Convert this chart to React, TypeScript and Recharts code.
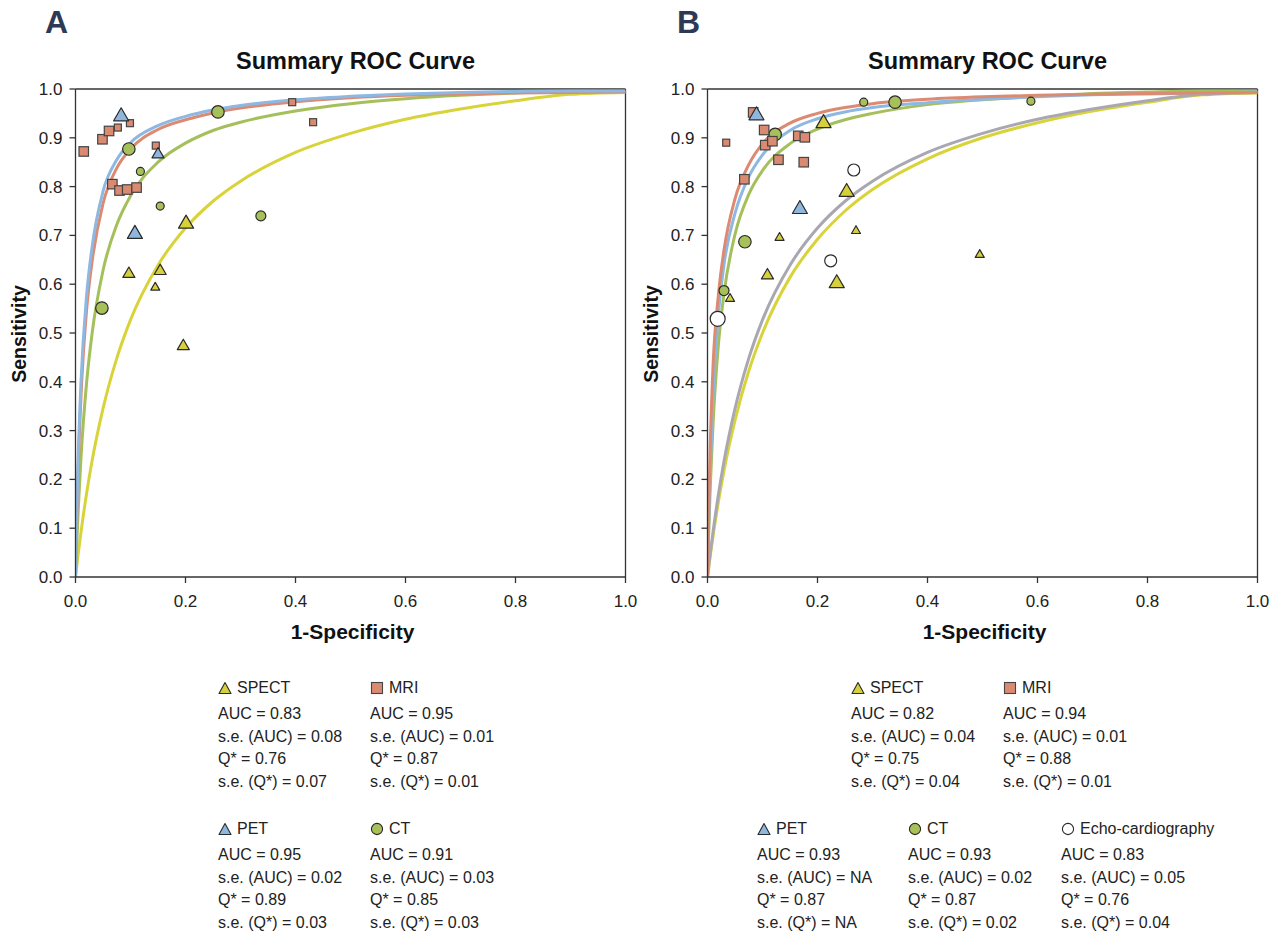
import React from 'react';
import { ComposedChart, Line, Scatter, XAxis, YAxis, ReferenceLine } from 'recharts';

const FONT = '"Liberation Sans", Arial, Helvetica, sans-serif';

// shared grid of 1-specificity values used for the SROC curves
const fprGrid = [0, 0.002, 0.005, 0.01, 0.02, 0.03, 0.05, 0.075, 0.1, 0.15, 0.2, 0.25, 0.3, 0.4, 0.5, 0.6, 0.7, 0.8, 0.9, 1.0];
const xTicks = [0, 0.2, 0.4, 0.6, 0.8, 1.0];
const yTicks = [0, 0.1, 0.2, 0.3, 0.4, 0.5, 0.6, 0.7, 0.8, 0.9, 1.0];

// panel A curves (sensitivity at each fprGrid value)
const curveSpectA = [0, 0.0197, 0.048, 0.092, 0.17, 0.237, 0.345, 0.448, 0.527, 0.639, 0.715, 0.77, 0.811, 0.87, 0.909, 0.938, 0.959, 0.976, 0.989, 0.993];
const curveMriA = [0, 0.1, 0.225, 0.37, 0.545, 0.645, 0.765, 0.838, 0.877, 0.917, 0.937, 0.951, 0.961, 0.974, 0.982, 0.987, 0.99, 0.992, 0.993, 0.994];
const curvePetA = [0, 0.116, 0.25, 0.4, 0.575, 0.675, 0.79, 0.855, 0.89, 0.925, 0.944, 0.957, 0.966, 0.978, 0.985, 0.99, 0.993, 0.995, 0.996, 0.996];
const curveCtA = [0, 0.0605, 0.139, 0.245, 0.396, 0.498, 0.628, 0.722, 0.781, 0.85, 0.889, 0.915, 0.932, 0.955, 0.97, 0.98, 0.987, 0.992, 0.995, 0.995];

// panel B curves
const curveSpectB = [0, 0.0177, 0.0433, 0.0833, 0.155, 0.218, 0.321, 0.422, 0.5, 0.614, 0.692, 0.75, 0.794, 0.857, 0.9, 0.931, 0.955, 0.973, 0.988, 0.992];
const curveEchoB = [0, 0.0197, 0.048, 0.092, 0.17, 0.237, 0.345, 0.448, 0.527, 0.639, 0.715, 0.77, 0.811, 0.87, 0.909, 0.938, 0.959, 0.976, 0.989, 0.993];
const curveMriB = [0, 0.12, 0.27, 0.43, 0.58, 0.67, 0.775, 0.845, 0.888, 0.93, 0.95, 0.962, 0.97, 0.979, 0.984, 0.987, 0.989, 0.991, 0.992, 0.993];
const curvePetB = [0, 0.1, 0.22, 0.37, 0.54, 0.64, 0.745, 0.82, 0.865, 0.915, 0.939, 0.953, 0.962, 0.972, 0.979, 0.984, 0.988, 0.99, 0.992, 0.994];
const curveCtB = [0, 0.0824, 0.184, 0.311, 0.478, 0.581, 0.702, 0.784, 0.833, 0.888, 0.918, 0.937, 0.95, 0.968, 0.978, 0.985, 0.991, 0.994, 0.996, 0.996];

// study points: x = 1-specificity, y = sensitivity, w = study weight class
const spectA = [
  { x: 0.201, y: 0.725, w: 3 }, { x: 0.097, y: 0.622, w: 2 }, { x: 0.154, y: 0.628, w: 2 },
  { x: 0.145, y: 0.594, w: 1 }, { x: 0.196, y: 0.474, w: 2 },
];
const petA = [{ x: 0.083, y: 0.945, w: 3 }, { x: 0.15, y: 0.867, w: 2 }, { x: 0.108, y: 0.704, w: 3 }];
const mriA = [
  { x: 0.015, y: 0.872, w: 2 }, { x: 0.049, y: 0.897, w: 2 }, { x: 0.061, y: 0.914, w: 2 },
  { x: 0.077, y: 0.921, w: 1 }, { x: 0.099, y: 0.93, w: 1 }, { x: 0.146, y: 0.884, w: 1 },
  { x: 0.067, y: 0.805, w: 2 }, { x: 0.08, y: 0.792, w: 2 }, { x: 0.094, y: 0.794, w: 2 },
  { x: 0.111, y: 0.798, w: 2 }, { x: 0.394, y: 0.973, w: 1 }, { x: 0.432, y: 0.932, w: 1 },
];
const ctA = [
  { x: 0.097, y: 0.877, w: 3 }, { x: 0.118, y: 0.831, w: 1 }, { x: 0.154, y: 0.76, w: 1 },
  { x: 0.259, y: 0.953, w: 3 }, { x: 0.337, y: 0.74, w: 2 }, { x: 0.048, y: 0.551, w: 3 },
];

const spectB = [
  { x: 0.211, y: 0.931, w: 3 }, { x: 0.253, y: 0.79, w: 3 }, { x: 0.131, y: 0.696, w: 1 },
  { x: 0.27, y: 0.71, w: 1 }, { x: 0.109, y: 0.619, w: 2 }, { x: 0.235, y: 0.603, w: 3 },
  { x: 0.041, y: 0.571, w: 1 }, { x: 0.495, y: 0.661, w: 1 },
];
const petB = [{ x: 0.089, y: 0.947, w: 3 }, { x: 0.168, y: 0.755, w: 3 }];
const mriB = [
  { x: 0.083, y: 0.952, w: 2 }, { x: 0.103, y: 0.916, w: 2 }, { x: 0.034, y: 0.89, w: 1 },
  { x: 0.105, y: 0.885, w: 2 }, { x: 0.118, y: 0.893, w: 2 }, { x: 0.165, y: 0.904, w: 2 },
  { x: 0.177, y: 0.901, w: 2 }, { x: 0.129, y: 0.855, w: 2 }, { x: 0.175, y: 0.85, w: 2 },
  { x: 0.067, y: 0.815, w: 2 },
];
const ctB = [
  { x: 0.123, y: 0.907, w: 3 }, { x: 0.284, y: 0.973, w: 1 }, { x: 0.341, y: 0.973, w: 3 },
  { x: 0.588, y: 0.975, w: 1 }, { x: 0.068, y: 0.687, w: 3 }, { x: 0.03, y: 0.587, w: 2 },
];
const echoB = [{ x: 0.266, y: 0.834, w: 2 }, { x: 0.224, y: 0.648, w: 2 }, { x: 0.0185, y: 0.529, w: 3 }];

// legend stats
const statsA = [
  { name: 'SPECT', marker: 'tri', fill: '#d6d03c', lines: ['AUC = 0.83', 's.e. (AUC) = 0.08', 'Q* = 0.76', 's.e. (Q*) = 0.07'] },
  { name: 'MRI', marker: 'sq', fill: '#d98a70', lines: ['AUC = 0.95', 's.e. (AUC) = 0.01', 'Q* = 0.87', 's.e. (Q*) = 0.01'] },
  { name: 'PET', marker: 'tri', fill: '#8fb6dd', lines: ['AUC = 0.95', 's.e. (AUC) = 0.02', 'Q* = 0.89', 's.e. (Q*) = 0.03'] },
  { name: 'CT', marker: 'circ', fill: '#a7c05a', lines: ['AUC = 0.91', 's.e. (AUC) = 0.03', 'Q* = 0.85', 's.e. (Q*) = 0.03'] },
];
const statsB = [
  { name: 'SPECT', marker: 'tri', fill: '#d6d03c', lines: ['AUC = 0.82', 's.e. (AUC) = 0.04', 'Q* = 0.75', 's.e. (Q*) = 0.04'] },
  { name: 'MRI', marker: 'sq', fill: '#d98a70', lines: ['AUC = 0.94', 's.e. (AUC) = 0.01', 'Q* = 0.88', 's.e. (Q*) = 0.01'] },
  { name: 'PET', marker: 'tri', fill: '#8fb6dd', lines: ['AUC = 0.93', 's.e. (AUC) = NA', 'Q* = 0.87', 's.e. (Q*) = NA'] },
  { name: 'CT', marker: 'circ', fill: '#a7c05a', lines: ['AUC = 0.93', 's.e. (AUC) = 0.02', 'Q* = 0.87', 's.e. (Q*) = 0.02'] },
  { name: 'Echo-cardiography', marker: 'circ', fill: '#ffffff', lines: ['AUC = 0.83', 's.e. (AUC) = 0.05', 'Q* = 0.76', 's.e. (Q*) = 0.04'] },
];

const COLORS = {
  spect: '#d9d33a',
  mri: '#dc8a72',
  pet: '#8cb8e2',
  ct: '#a5bf5b',
  echo: '#a9a8b2',
};

const tableA = fprGrid.map((x, i) => ({ x, spect: curveSpectA[i], mri: curveMriA[i], pet: curvePetA[i], ct: curveCtA[i] }));
const tableB = fprGrid.map((x, i) => ({
  x, spect: curveSpectB[i], echo: curveEchoB[i], mri: curveMriB[i], pet: curvePetB[i], ct: curveCtB[i],
}));

const EDGE = '#2a2a2a';

const triangle = (fill: string) => (props: any) => {
  const { cx, cy, payload } = props;
  const s = ({ 1: 9, 2: 12, 3: 15 } as any)[payload.w];
  const h = s * 0.866;
  return (
    <polygon
      points={`${cx},${cy - h * 0.62} ${cx - s / 2},${cy + h * 0.38} ${cx + s / 2},${cy + h * 0.38}`}
      fill={fill}
      stroke={EDGE}
      strokeWidth={1.2}
      strokeLinejoin="round"
    />
  );
};

const square = (fill: string) => (props: any) => {
  const { cx, cy, payload } = props;
  const s = ({ 1: 7, 2: 9.5, 3: 12 } as any)[payload.w];
  return <rect x={cx - s / 2} y={cy - s / 2} width={s} height={s} fill={fill} stroke="#444" strokeWidth={1.2} />;
};

const circle = (fill: string, sizes: any) => (props: any) => {
  const { cx, cy, payload } = props;
  return <circle cx={cx} cy={cy} r={sizes[payload.w] / 2} fill={fill} stroke={EDGE} strokeWidth={1.2} />;
};

const CIRCLE_SIZES = { 1: 8, 2: 10, 3: 12.5 };
const ECHO_SIZES = { 1: 9, 2: 12, 3: 15 };

function Marker({ kind, fill }: { kind: string; fill: string }) {
  return (
    <svg width={14} height={14} style={{ position: 'absolute', left: 0, top: 4 }}>
      {kind === 'tri' && <polygon points="7,1.5 1,12.5 13,12.5" fill={fill} stroke={EDGE} strokeWidth={1.1} strokeLinejoin="round" />}
      {kind === 'sq' && <rect x={1.5} y={1.5} width={11} height={11} fill={fill} stroke="#444" strokeWidth={1.1} />}
      {kind === 'circ' && <circle cx={7} cy={7} r={5.6} fill={fill} stroke={EDGE} strokeWidth={1.1} />}
    </svg>
  );
}

function StatBlock({ stat, left, top }: { stat: any; left: number; top: number }) {
  return (
    <div style={{ position: 'absolute', left, top, fontFamily: FONT, fontSize: 16, color: '#222', lineHeight: '22.6px', whiteSpace: 'nowrap' }}>
      <div style={{ position: 'relative', paddingLeft: 19, marginBottom: 3.5 }}>
        <Marker kind={stat.marker} fill={stat.fill} />
        {stat.name}
      </div>
      {stat.lines.map((l: string) => (
        <div key={l}>{l}</div>
      ))}
    </div>
  );
}

function RocPanel({ left, letter, table, keys, points }: { left: number; letter: string; table: any[]; keys: string[]; points: any[] }) {
  const axisStyle = { stroke: '#333', strokeWidth: 1.3 };
  return (
    <div style={{ position: 'absolute', left, top: 0, width: 660, height: 660 }}>
      <div style={{ position: 'absolute', left: 45, top: 4, fontFamily: FONT, fontWeight: 'bold', fontSize: 32, color: '#2e3a55' }}>{letter}</div>
      <div style={{ position: 'absolute', left: 355.5, top: 61, transform: 'translate(-50%, -50%)', fontFamily: FONT, fontWeight: 'bold', fontSize: 23.5, color: '#111', whiteSpace: 'nowrap' }}>
        Summary ROC Curve
      </div>
      <div style={{ position: 'absolute', left: 352.5, top: 632, transform: 'translate(-50%, -50%)', fontFamily: FONT, fontWeight: 'bold', fontSize: 21, color: '#111', whiteSpace: 'nowrap' }}>
        1-Specificity
      </div>
      <div style={{ position: 'absolute', left: 19, top: 334, transform: 'translate(-50%, -50%) rotate(-90deg)', fontFamily: FONT, fontWeight: 'bold', fontSize: 19.5, color: '#111', whiteSpace: 'nowrap' }}>
        Sensitivity
      </div>
      <ComposedChart width={660} height={660} data={table} margin={{ top: 89, right: 34.5, left: 0, bottom: 43 }} style={{ position: 'absolute', left: 0, top: 0 }}>
        <XAxis
          type="number"
          dataKey="x"
          domain={[0, 1]}
          ticks={xTicks}
          interval={0}
          tickFormatter={(v: number) => v.toFixed(1)}
          tickSize={6}
          tickMargin={12}
          height={40}
          axisLine={axisStyle}
          tickLine={axisStyle}
          tick={{ fontSize: 17, fill: '#222', fontFamily: FONT }}
          allowDataOverflow
        />
        <YAxis
          type="number"
          domain={[0, 1]}
          ticks={yTicks}
          interval={0}
          tickFormatter={(v: number) => v.toFixed(1)}
          tickSize={6}
          tickMargin={7}
          width={75.5}
          axisLine={axisStyle}
          tickLine={axisStyle}
          tick={{ fontSize: 17, fill: '#222', fontFamily: FONT }}
          allowDataOverflow
        />
        <ReferenceLine y={1} stroke="#333" strokeWidth={1.3} />
        <ReferenceLine x={1} stroke="#333" strokeWidth={1.3} />
        {keys.map((k) => (
          <Line key={k} type="monotone" dataKey={k} stroke={(COLORS as any)[k]} strokeWidth={3} dot={false} activeDot={false} isAnimationActive={false} />
        ))}
        {points.map((p, i) => (
          <Scatter key={i} data={p.data} dataKey="y" shape={p.shape} isAnimationActive={false} />
        ))}
      </ComposedChart>
    </div>
  );
}

export default function App() {
  const pointsA = [
    { data: spectA, shape: triangle('#d6d03c') },
    { data: ctA, shape: circle('#a7c05a', CIRCLE_SIZES) },
    { data: mriA, shape: square('#d98a70') },
    { data: petA, shape: triangle('#8fb6dd') },
  ];
  const pointsB = [
    { data: spectB, shape: triangle('#d6d03c') },
    { data: echoB, shape: circle('#ffffff', ECHO_SIZES) },
    { data: ctB, shape: circle('#a7c05a', CIRCLE_SIZES) },
    { data: mriB, shape: square('#d98a70') },
    { data: petB, shape: triangle('#8fb6dd') },
  ];

  return (
    <div style={{ position: 'absolute', left: 0, top: 0, width: 1278, height: 934, background: '#fff', overflow: 'hidden' }}>
      <RocPanel left={0} letter="A" table={tableA} keys={['spect', 'ct', 'mri', 'pet']} points={pointsA} />
      <RocPanel left={632} letter="B" table={tableB} keys={['spect', 'echo', 'ct', 'pet', 'mri']} points={pointsB} />

      <StatBlock stat={statsA[0]} left={218} top={677} />
      <StatBlock stat={statsA[1]} left={370} top={677} />
      <StatBlock stat={statsA[2]} left={218} top={818} />
      <StatBlock stat={statsA[3]} left={370} top={818} />

      <StatBlock stat={statsB[0]} left={851} top={677} />
      <StatBlock stat={statsB[1]} left={1003} top={677} />
      <StatBlock stat={statsB[2]} left={757} top={818} />
      <StatBlock stat={statsB[3]} left={908} top={818} />
      <StatBlock stat={statsB[4]} left={1061} top={818} />
    </div>
  );
}
